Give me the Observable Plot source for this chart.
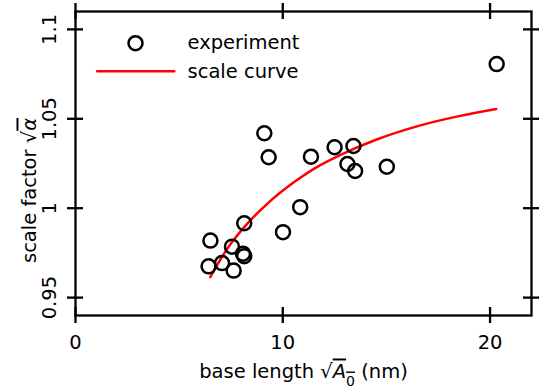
<!DOCTYPE html>
<html>
<head>
<meta charset="utf-8">
<script src="https://cdn.jsdelivr.net/npm/d3@7"></script>
<script src="https://cdn.jsdelivr.net/npm/@observablehq/plot@0.6"></script>
<style>
  html, body { margin: 0; padding: 0; background: #fff; }
  #chart svg { display: block; }
</style>
</head>
<body>
<div id="chart"></div>
<script>
// experiment data
const expX = [20.32, 9.11, 9.32, 11.36, 12.50, 13.41, 13.12, 13.49, 15.02, 10.84, 10.01, 8.14, 6.51, 7.55, 8.08, 8.14, 6.42, 7.07, 7.63];
const expY = [1.0806, 1.0419, 1.0285, 1.0288, 1.0341, 1.0348, 1.0247, 1.0208, 1.0232, 1.0006, 0.9866, 0.9916, 0.9819, 0.9785, 0.9746, 0.9732, 0.9675, 0.9693, 0.9651];
// scale curve
const curveX = [6.5, 7.3, 8.3, 9.3, 10.5, 11.5, 13.1, 14.5, 16.6, 18.5, 20.3];
const curveY = [0.9615, 0.977, 0.9915, 1.003, 1.0142, 1.022, 1.0315, 1.0383, 1.0462, 1.0515, 1.0555];
// axes
const xDomain = [0, 22];
const yDomain = [0.94, 1.11];
const xTicks = [0, 10, 20];
const yTicks = [0.95, 1, 1.05, 1.1];
const yTickLabels = ["0.95", "1", "1.05", "1.1"];
const xLabel = "base length √A0 (nm)";
const yLabel = "scale factor √α";
const legendLabels = ["experiment", "scale curve"];

const points = expX.map((x, i) => ({x, y: expY[i]}));
const curve = curveX.map((x, i) => ({x, y: curveY[i]}));

const font = "DejaVu Sans, sans-serif";
const fs = 19.5;
const tw = 2.3;

const lineShape = {draw(ctx, l) { ctx.moveTo(0, 0); ctx.lineTo(0, -l); }};

const chart = Plot.plot({
  width: 546,
  height: 388,
  marginLeft: 75,
  marginRight: 15,
  marginTop: 11,
  marginBottom: 73,
  style: {fontFamily: font, fontSize: fs + "px", background: "#fff", color: "#000"},
  x: {domain: xDomain, axis: null},
  y: {domain: yDomain, axis: null},
  marks: [
    Plot.line(curve, {x: "x", y: "y", stroke: "#ff0000", strokeWidth: 2.5, curve: "monotone-x"}),
    Plot.dot(points, {x: "x", y: "y", r: 7, stroke: "#000", strokeWidth: 2.5, fill: "none"}),
    Plot.frame({stroke: "#000", strokeWidth: tw}),
    // ticks crossing the frame on all four sides
    Plot.ruleX(xTicks, {x: d => d, y1: yDomain[0], y2: yDomain[0], insetTop: -8, insetBottom: -8, stroke: "#000", strokeWidth: tw}),
    Plot.ruleX(xTicks, {x: d => d, y1: yDomain[1], y2: yDomain[1], insetTop: -8, insetBottom: -8, stroke: "#000", strokeWidth: tw}),
    Plot.ruleY(yTicks, {y: d => d, x1: xDomain[0], x2: xDomain[0], insetLeft: -8, insetRight: -8, stroke: "#000", strokeWidth: tw}),
    Plot.ruleY(yTicks, {y: d => d, x1: xDomain[1], x2: xDomain[1], insetLeft: -8, insetRight: -8, stroke: "#000", strokeWidth: tw}),
    // tick labels
    Plot.text(xTicks, {x: d => d, y: yDomain[0], text: d => String(d), dy: 27, lineAnchor: "middle", textAnchor: "middle", fill: "#000"}),
    Plot.text(yTicks, {x: xDomain[0], y: d => d, text: (d, i) => yTickLabels[i], dx: -20, rotate: -90, lineAnchor: "bottom", textAnchor: "middle", fill: "#000"}),
    // axis labels
    Plot.text([xLabel], {text: d => d, frameAnchor: "bottom", dy: 62, lineAnchor: "bottom", textAnchor: "middle", fill: "#000"}),
    Plot.text([yLabel], {text: d => d, frameAnchor: "left", dx: -40, dy: 27, rotate: -90, lineAnchor: "bottom", textAnchor: "middle", fill: "#000"}),
    // legend
    Plot.dot([0], {frameAnchor: "top-left", dx: 60, dy: 31.7, r: 7, stroke: "#000", strokeWidth: 2.5, fill: "none"}),
    Plot.text([legendLabels[0]], {text: d => d, frameAnchor: "top-left", dx: 112, dy: 31.7, textAnchor: "start", lineAnchor: "middle", fill: "#000"}),
    Plot.vector([0], {frameAnchor: "top-left", dx: 21.7, dy: 59.7, length: 77, rotate: 90, anchor: "start", shape: lineShape, stroke: "#ff0000", strokeWidth: 2.5}),
    Plot.text([legendLabels[1]], {text: d => d, frameAnchor: "top-left", dx: 112, dy: 60, textAnchor: "start", lineAnchor: "middle", fill: "#000"})
  ]
});

document.getElementById("chart").appendChild(chart);

// rich formatting for the radicals in the axis labels
d3.select(chart).selectAll("text").each(function() {
  const t = this.textContent;
  if (t === xLabel) {
    this.textContent = "";
    const s = d3.select(this);
    s.append("tspan").text("base length √");
    const o = s.append("tspan").attr("text-decoration", "overline");
    o.append("tspan").attr("font-style", "italic").text("A");
    o.append("tspan").attr("baseline-shift", "sub").attr("font-size", "72%").text("0");
    s.append("tspan").text(" (nm)");
  } else if (t === yLabel) {
    this.textContent = "";
    const s = d3.select(this);
    s.append("tspan").text("scale factor √");
    s.append("tspan").attr("text-decoration", "overline").attr("font-style", "italic").text("α");
  }
});
</script>
</body>
</html>
